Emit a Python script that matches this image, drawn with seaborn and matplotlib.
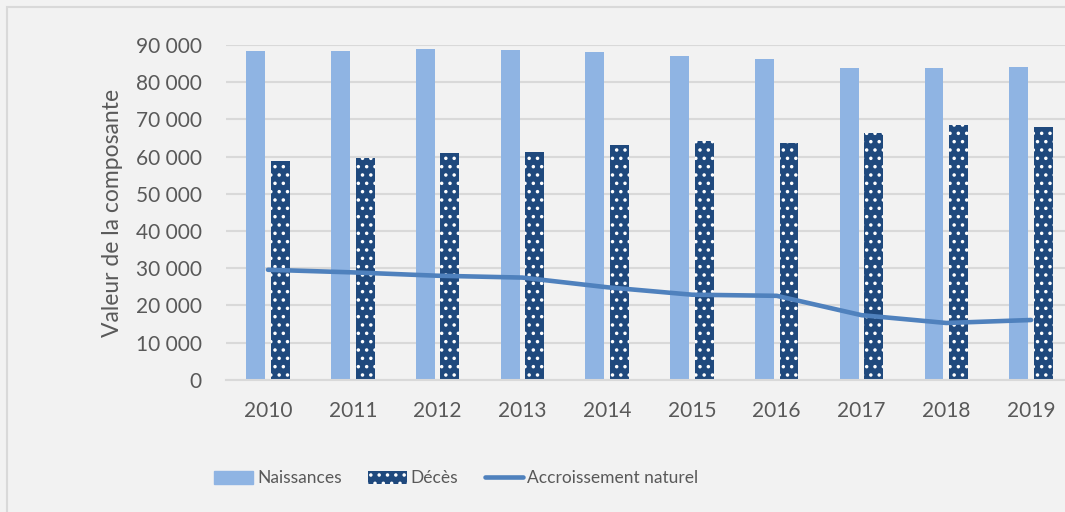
import numpy as np
import pandas as pd
import seaborn as sns
import matplotlib.pyplot as plt
from matplotlib.patches import Rectangle
from matplotlib.lines import Line2D
from matplotlib.ticker import FuncFormatter

years = ["2010", "2011", "2012", "2013", "2014", "2015", "2016", "2017", "2018", "2019"]
naissances = [88400, 88500, 89000, 88800, 88000, 87100, 86300, 83800, 83800, 84100]
deces = [58800, 59600, 61000, 61300, 63100, 64200, 63700, 66400, 68500, 68000]
accroissement = [29600, 28900, 28000, 27500, 24900, 22900, 22600, 17400, 15300, 16100]
yticks = [0, 10000, 20000, 30000, 40000, 50000, 60000, 70000, 80000, 90000]

sns.set_theme(style="white")
plt.rcParams['font.family'] = ['Lato', 'DejaVu Sans']
plt.rcParams['hatch.color'] = 'white'
plt.rcParams['hatch.linewidth'] = 1.3

bg = "#f2f2f2"
txt = "#595959"
c_nais = "#8fb4e3"
c_dec = "#1f497d"
c_line = "#4f81bd"

fig = plt.figure(figsize=(10.65, 5.12), dpi=100, facecolor=bg)
ax = fig.add_axes([0.2118, 0.258, 0.7962, 0.654])
ax.set_facecolor(bg)

df = pd.DataFrame({
    "Année": years * 2,
    "Valeur": naissances + deces,
    "Composante": ["Naissances"] * len(years) + ["Décès"] * len(years),
})
sns.barplot(data=df, x="Année", y="Valeur", hue="Composante",
            hue_order=["Naissances", "Décès"], palette=[c_nais, c_dec],
            width=0.58, gap=0.23, ax=ax, legend=False, saturation=1, linewidth=0)
n = len(years)
for i, p in enumerate(ax.patches):
    if i >= n:
        p.set_hatch("..")
        p.set_edgecolor("white")
        p.set_linewidth(0)

sns.lineplot(x=np.arange(n), y=accroissement, color=c_line, linewidth=3.3, ax=ax,
             solid_capstyle="round")

ax.set_ylim(0, 90000)
ax.set_xlim(-0.5, n - 0.5)
ax.set_yticks(yticks)
ax.yaxis.set_major_formatter(FuncFormatter(lambda v, p: f"{int(v):,}".replace(",", " ")))
ax.grid(axis="y", color="#d9d9d9", linewidth=1.5)
ax.set_axisbelow(True)
for s in ["top", "right", "left"]:
    ax.spines[s].set_visible(False)
ax.spines["bottom"].set_color("#d9d9d9")
ax.spines["bottom"].set_linewidth(1.5)
ax.tick_params(axis="both", length=0, labelsize=15, colors=txt)
ax.tick_params(axis="x", pad=15)
ax.tick_params(axis="y", pad=17)
ax.set_xlabel("")
ax.set_ylabel("Valeur de la composante", fontsize=16.5, color=txt, labelpad=9)

handles = [
    Rectangle((0, 0), 1, 1, facecolor=c_nais, edgecolor=c_nais),
    Rectangle((0, 0), 1, 1, facecolor=c_dec, edgecolor="white", hatch="..", linewidth=0),
    Line2D([0], [0], color=c_line, linewidth=3.3, solid_capstyle="round"),
]
leg = fig.legend(handles, ["Naissances", "Décès", "Accroissement naturel"],
                 loc="center", bbox_to_anchor=(0.4286, 0.066), ncol=3, frameon=False,
                 fontsize=12.5, labelcolor=txt, handlelength=2.24, handleheight=0.75,
                 handletextpad=0.23, columnspacing=1.5)

fig.patches.append(Rectangle((0.0066, -0.2), 1.2, 1.186, transform=fig.transFigure,
                             fill=False, edgecolor="#d9d9d9", linewidth=1.5))

fig.savefig("out.png", dpi=100, facecolor=bg)
